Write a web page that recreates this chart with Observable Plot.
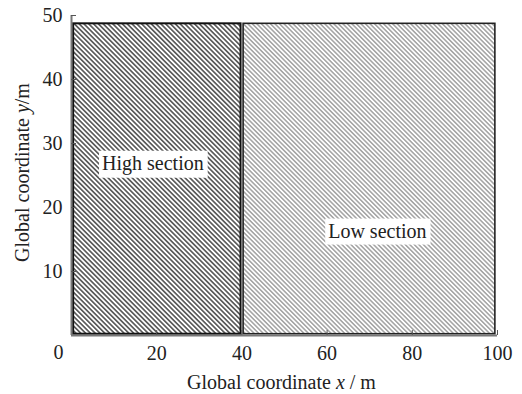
<!DOCTYPE html>
<html>
<head>
<meta charset="utf-8">
<script src="https://cdn.jsdelivr.net/npm/d3@7"></script>
<script src="https://cdn.jsdelivr.net/npm/@observablehq/plot@0.6"></script>
<style>
  html, body { margin: 0; padding: 0; background: #fff; }
</style>
</head>
<body>
<div id="chart"></div>
<script>
// Data
const sections = ["High section", "Low section"];
const sectionX1 = [0.5, 40.4];
const sectionX2 = [39.8, 99.5];
const sectionY1 = [0.2, 0.2];
const sectionY2 = [48.7, 48.7];
const labelX = [19.1, 71.8];
const labelY = [26.9, 16.3];
const xTicks = [20, 40, 60, 80, 100];
const yTicks = [10, 20, 30, 40, 50];
const xLabel = "Global coordinate x / m";
const yLabel = "Global coordinate y/m";

const table = sections.map((name, i) => ({
  name, x1: sectionX1[i], x2: sectionX2[i], y1: sectionY1[i], y2: sectionY2[i],
  lx: labelX[i], ly: labelY[i]
}));

const font = "'Liberation Serif', 'Times New Roman', serif";

const plot = Plot.plot({
  width: 522,
  height: 394,
  marginLeft: 71,
  marginRight: 25,
  marginTop: 15,
  marginBottom: 59,
  style: { fontFamily: font, fontSize: "20px", color: "#222", background: "#fff" },
  x: { domain: [0, 100] },
  y: { domain: [0, 50] },
  marks: [
    Plot.rect(table.filter(d => d.name === "High section"), {
      x1: "x1", x2: "x2", y1: "y1", y2: "y2",
      fill: "url(#hatchHigh)", stroke: "#111", strokeWidth: 2
    }),
    Plot.rect(table.filter(d => d.name === "Low section"), {
      x1: "x1", x2: "x2", y1: "y1", y2: "y2",
      fill: "url(#hatchLow)", stroke: "#222", strokeWidth: 1.6
    }),
    Plot.ruleX([0], { stroke: "#777", strokeWidth: 2 }),
    Plot.ruleY([0], { stroke: "#777", strokeWidth: 2 }),
    Plot.axisX({ ticks: xTicks, tickSize: -5, tickPadding: 15, label: null, fontSize: 20, stroke: "#555" }),
    Plot.axisY({ ticks: yTicks, tickSize: -5, tickPadding: 14, label: null, fontSize: 20, stroke: "#555" }),
    Plot.text(["0"], { frameAnchor: "bottom-left", textAnchor: "middle", lineAnchor: "middle", dx: -13, dy: 17, fontSize: 20, fill: "#222" }),
    Plot.text(table, { x: "lx", y: "ly", text: "name", fontSize: 20, fill: "#222" }),
    Plot.text([xLabel], { frameAnchor: "bottom", textAnchor: "middle", lineAnchor: "middle", dx: -3, dy: 47, fontSize: 20, fill: "#222" }),
    Plot.text([yLabel], { frameAnchor: "left", textAnchor: "middle", lineAnchor: "middle", dx: -49, dy: -3, rotate: -90, fontSize: 20, fill: "#222" })
  ]
});

document.getElementById("chart").appendChild(plot);

// Hatch patterns
const svg = d3.select(plot);
const defs = svg.insert("defs", ":first-child");
function hatch(id, color, width, spacing) {
  const p = defs.append("pattern")
    .attr("id", id)
    .attr("patternUnits", "userSpaceOnUse")
    .attr("width", spacing)
    .attr("height", spacing)
    .attr("patternTransform", "rotate(-45)");
  p.append("rect").attr("width", spacing).attr("height", spacing).attr("fill", "#fff");
  p.append("line")
    .attr("x1", spacing / 2).attr("x2", spacing / 2)
    .attr("y1", -1).attr("y2", spacing + 1)
    .attr("stroke", color).attr("stroke-width", width);
}
hatch("hatchHigh", "#2a2a2a", 1.3, 3.4);
hatch("hatchLow", "#8a8a8a", 1.2, 3.2);

const allTexts = Array.from(plot.querySelectorAll("text"));

// White boxes behind section labels
const svgRect = plot.getBoundingClientRect();
allTexts.filter(t => sections.includes(t.textContent)).forEach((t) => {
  const b = t.getBoundingClientRect();
  const g = t.parentNode;
  d3.select(g.parentNode).insert("rect", () => g)
    .attr("x", b.left - svgRect.left - 3)
    .attr("y", b.top - svgRect.top - 1)
    .attr("width", b.width + 7)
    .attr("height", b.height + 4)
    .attr("fill", "#fff");
});

// Italic variable names in axis titles
function italicize(label, parts) {
  const t = allTexts.find(el => el.textContent === label);
  if (!t) return;
  const s = d3.select(t);
  s.text(null);
  parts.forEach(([str, it]) => {
    s.append("tspan").text(str).attr("font-style", it ? "italic" : null);
  });
}
italicize(xLabel, [["Global coordinate ", false], ["x", true], [" / m", false]]);
italicize(yLabel, [["Global coordinate ", false], ["y", true], ["/m", false]]);
</script>
</body>
</html>
